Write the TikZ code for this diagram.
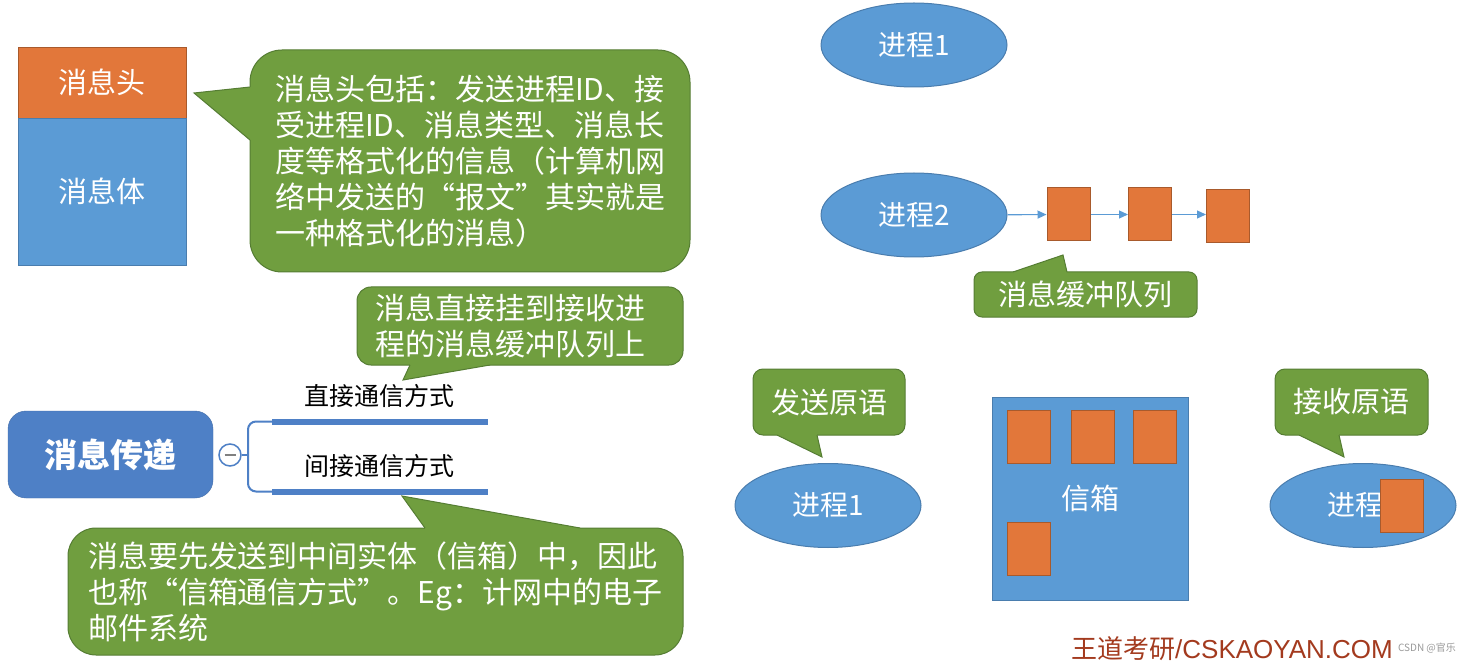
\documentclass[tikz,border=0pt]{standalone}
\usepackage{fontspec}
\setmainfont{Noto Sans CJK SC}
\newfontfamily\latinfont{Liberation Sans}
\usepackage{tikz}
\usetikzlibrary{arrows.meta,positioning,shapes.geometric}
\definecolor{bubgreen}{HTML}{709E3F}
\definecolor{bubline}{HTML}{557D33}
\definecolor{procblue}{HTML}{5B9BD5}
\definecolor{procline}{HTML}{4A7DAE}
\definecolor{msgorange}{HTML}{E2773A}
\definecolor{msgline}{HTML}{A85A2C}
\definecolor{mapblue}{HTML}{4E80C6}
\definecolor{logored}{HTML}{A33A1E}

\begin{document}
\begin{tikzpicture}[x=1pt, y=-1pt,
    bubble/.style={draw=bubline, fill=bubgreen, text=white, line width=1pt, inner sep=0pt, align=left, font=\fontsize{30}{36}\selectfont},
    tipfill/.style={fill=bubgreen},
    tipline/.style={draw=bubline, line width=1pt},
    proc/.style={ellipse, draw=procline, fill=procblue, text=white, line width=1pt, minimum width=186, minimum height=84, inner sep=0pt, font=\fontsize{28}{30}\selectfont},
    msg/.style={draw=msgline, fill=msgorange, line width=1pt, minimum width=43, minimum height=53, inner sep=0pt},
    qarrow/.style={draw=procblue, line width=1.2pt, -{Triangle[length=9pt,width=8pt]}},
    branch/.style={font=\fontsize{25}{28}\selectfont, inner sep=0pt}]
    \useasboundingbox[fill=white] (0,0) rectangle (1460,663);

    % Nachricht: Kopf und Koerper
    \node[draw=msgline, fill=msgorange, text=white, minimum width=168, minimum height=71, inner sep=0pt, font=\fontsize{29}{30}\selectfont] (head) at (102,82.5) {消息头};
    \node[draw=procline, fill=procblue, text=white, minimum width=168, minimum height=147, inner sep=0pt, font=\fontsize{29}{30}\selectfont] (body) at (102,191.5) {消息体};

    % Sprechblase zum Kopf
    \node[bubble, rounded corners=32, minimum width=440, minimum height=222, text width=390] (hinfo) at (470,161)
      {消息头包括：发送进程ID、接\\受进程ID、消息类型、消息长\\度等格式化的信息（计算机网\\络中发送的“报文”其实就是\\一种格式化的消息）};
    \fill[tipfill] (254,87) -- (250,87) -- (194,93) -- (250,140) -- (254,140) -- cycle;
    \draw[tipline] (250,87) -- (194,93) -- (250,140);

    % Mindmap
    \node[draw=mapblue!85!black, fill=mapblue, text=white, rounded corners=18, minimum width=205, minimum height=87, inner sep=0pt, font=\fontsize{33}{36}\selectfont\bfseries] (root) at (110.5,454.5) {消息传递};
    \node[circle, draw=mapblue, fill=white, line width=1.5pt, minimum size=22, inner sep=0pt] (fold) at (230,455) {};
    \draw[gray, line width=1.5pt] (224.5,455) -- (235.5,455);
    \coordinate (dbar) at (272,421.5);
    \coordinate (ibar) at (272,491.5);
    \draw[mapblue, line width=2pt] (fold.east) -- (248,455);
    \draw[mapblue, line width=2pt, rounded corners=8] (dbar) -| (ibar -| 248,0) -- (ibar);
    \draw[mapblue, line width=6pt] (dbar) -- (488,421.5);
    \draw[mapblue, line width=6pt] (ibar) -- (488,491.5);
    \node[branch] (direct) at (379,396) {直接通信方式};
    \node[branch] (indirect) at (379,466) {间接通信方式};

    % Sprechblasen zu den Verfahren
    \node[bubble, rounded corners=14, minimum width=326, minimum height=78, text width=290] (hdirect) at (520,326)
      {消息直接挂到接收进\\程的消息缓冲队列上};
    \fill[tipfill] (410,362) -- (410,365) -- (403,380) -- (490,365) -- (490,362) -- cycle;
    \draw[tipline] (410,365) -- (403,380) -- (490,365);

    \node[bubble, rounded corners=28, minimum width=615, minimum height=127, text width=575] (hindirect) at (375.5,591.5)
      {消息要先发送到中间实体（信箱）中，因此\\也称“信箱通信方式”。Eg：计网中的电子\\邮件系统};
    \fill[tipfill] (425,531) -- (425,528) -- (402,496) -- (580,528) -- (580,531) -- cycle;
    \draw[tipline] (425,528) -- (402,496) -- (580,528);

    % Direkte Kommunikation
    \node[proc] (p1) at (914,45) {进程1};
    \node[proc] (p2) at (914,215) {进程2};
    \node[msg] (q1) at (1068.5,214.5) {};
    \node[msg] (q2) at (1150,214.5) {};
    \node[msg] (q3) at (1228,216.5) {};
    \draw[qarrow] (p2) -- (q1);
    \draw[qarrow] (q1) -- (q2);
    \draw[qarrow] (q2.east) -- (q2.east -| q3.west);

    \node[bubble, rounded corners=8, minimum width=223, minimum height=45, align=center, font=\fontsize{29}{30}\selectfont] (hqueue) at (1085.5,294.5) {消息缓冲队列};
    \fill[tipfill] (1013,275) -- (1013,272) -- (1063,255) -- (1067,272) -- (1067,275) -- cycle;
    \draw[tipline] (1013,272) -- (1063,255) -- (1067,272);

    % Indirekte Kommunikation
    \node[bubble, rounded corners=10, minimum width=152, minimum height=66, align=center, font=\fontsize{29}{30}\selectfont] (hsend) at (829,402) {发送原语};
    \fill[tipfill] (777,432) -- (777,435) -- (822,457) -- (817,435) -- (817,432) -- cycle;
    \draw[tipline] (777,435) -- (822,457) -- (817,435);
    \node[proc] (sender) at (828,505.5) {进程1};

    \node[draw=procline, fill=procblue, text=white, line width=1pt, minimum width=196, minimum height=203, inner sep=0pt, font=\fontsize{29}{30}\selectfont] (mbox) at (1090,498.5) {信箱};
    \node[msg] (m1) at (1029,436.5) {};
    \node[msg] (m2) at (1092.5,436.5) {};
    \node[msg] (m3) at (1155,436.5) {};
    \node[msg] (m4) at (1029,549) {};

    \node[bubble, rounded corners=10, minimum width=153, minimum height=66, align=center, font=\fontsize{29}{30}\selectfont] (hrecv) at (1351.5,402) {接收原语};
    \fill[tipfill] (1299,432) -- (1299,435) -- (1344,457) -- (1339,435) -- (1339,432) -- cycle;
    \draw[tipline] (1299,435) -- (1344,457) -- (1339,435);
    \node[proc] (receiver) at (1363,505.5) {进程2};
    \node[msg] (m5) at (1401.5,505.5) {};

    % Fusszeile
    \node[text=logored, inner sep=0pt, font=\fontsize{26}{28}\selectfont] (logo) at (1232,649) {王道考研{\latinfont/CSKAOYAN.COM}};
    \node[text=gray!80, inner sep=0pt, font=\fontsize{10}{11}\selectfont] (mark) at (1427,648) {CSDN @官乐};
  \end{tikzpicture}
\end{document}
